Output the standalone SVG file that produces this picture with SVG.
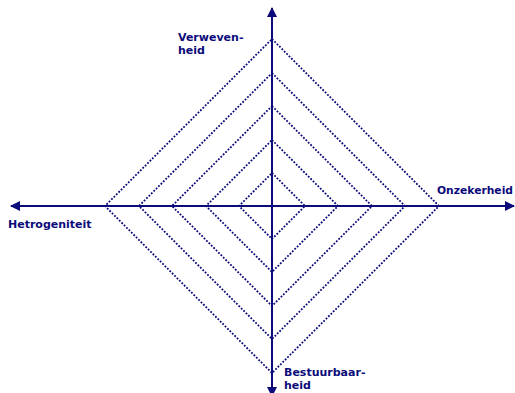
<svg xmlns="http://www.w3.org/2000/svg" width="515" height="393" viewBox="0 0 515 393">
<style>
.d{fill:none;stroke:#0b0b7a;stroke-width:1.8;stroke-dasharray:1.8 1.6}
.ax{stroke:#0b0b7a;stroke-width:2;fill:none}
text{font-family:"DejaVu Sans",Verdana,sans-serif;font-weight:bold;font-size:11px;fill:#0b0b7a}
</style>
<defs>
<marker id="ah" viewBox="0 0 10 10" refX="9" refY="5" markerWidth="5" markerHeight="5" orient="auto" markerUnits="strokeWidth">
<path d="M0,0 L10,5 L0,10 z" fill="#0b0b7a"/>
</marker>
</defs>
<g id="diamonds">
<polygon class="d" points="272,173 305,206 272,239 239,206"/>
<polygon class="d" points="272,140 338,206 272,272 206,206"/>
<polygon class="d" points="272,106 372,206 272,306 172,206"/>
<polygon class="d" points="272,73 405,206 272,339 139,206"/>
<polygon class="d" points="272,39 439,206 272,373 105,206"/>
</g>
<g id="connectors">
<line class="ax" x1="272" y1="206" x2="272" y2="8" marker-end="url(#ah)"/>
<line class="ax" x1="272" y1="206" x2="272" y2="396" marker-end="url(#ah)"/>
<line class="ax" x1="272" y1="206" x2="11" y2="206" marker-end="url(#ah)"/>
<line class="ax" x1="272" y1="206" x2="514" y2="206" marker-end="url(#ah)"/>
</g>
<g id="label-top"><text x="178" y="41">Verweven-</text><text x="178" y="54">heid</text></g>
<g id="label-left"><text x="8" y="228">Hetrogeniteit</text></g>
<g id="label-right"><text x="437" y="194" textLength="76" lengthAdjust="spacingAndGlyphs">Onzekerheid</text></g>
<g id="label-bottom"><text x="284" y="376">Bestuurbaar-</text><text x="284" y="389">heid</text></g>
</svg>
